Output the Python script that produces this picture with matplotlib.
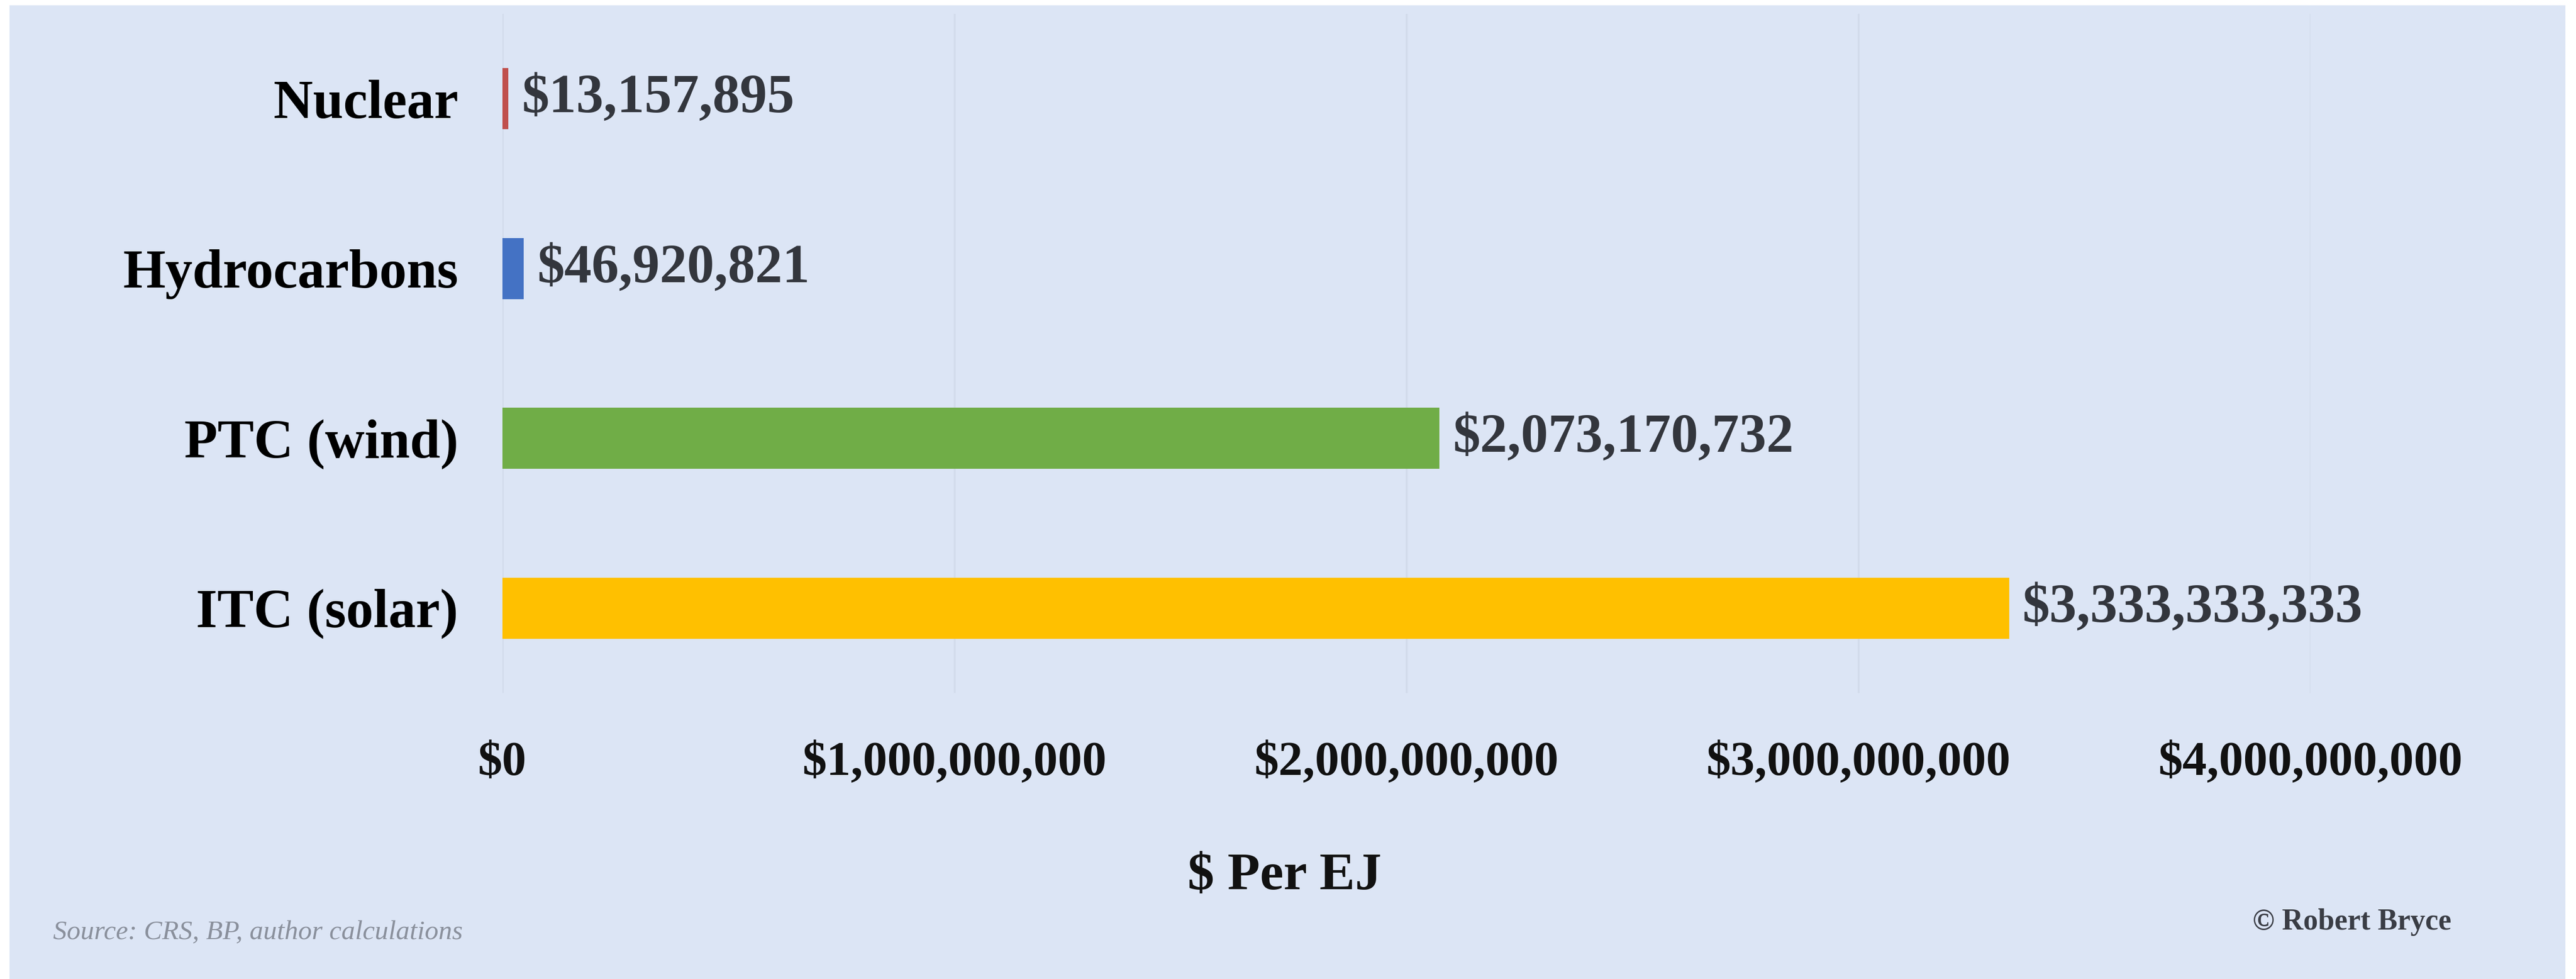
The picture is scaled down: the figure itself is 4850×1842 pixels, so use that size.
import matplotlib
matplotlib.use("Agg")
import matplotlib.pyplot as plt
from matplotlib.patches import Rectangle
from matplotlib.ticker import FuncFormatter

# Subsidy per exajoule by energy source
categories = ["Nuclear", "Hydrocarbons", "PTC (wind)", "ITC (solar)"]
values = [13157895, 46920821, 2073170732, 3333333333]
bar_colors = ["#C0504D", "#4472C4", "#70AD47", "#FFC000"]
tick_values = [0, 1e9, 2e9, 3e9, 4e9]

W, H, DPI = 4850, 1842, 100
BG = "#DCE5F5"
SERIF = ["Liberation Serif", "DejaVu Serif"]

fig = plt.figure(figsize=(W / DPI, H / DPI), dpi=DPI, facecolor="white")

# Light blue panel behind the chart
fig.patches.append(Rectangle((18 / W, 0), (4830 - 18) / W, (H - 10) / H,
                             transform=fig.transFigure, facecolor=BG,
                             edgecolor="none", zorder=-10))

left, right = 946 / W, 4350 / W
top, bottom = 1 - 26 / H, 1 - 1304 / H
ax = fig.add_axes([left, bottom, right - left, top - bottom], zorder=5)
ax.set_facecolor("none")

y = list(range(len(categories)))
ax.barh(y, values, height=0.36, color=bar_colors, zorder=3)
ax.set_ylim(len(categories) - 0.5, -0.5)
ax.set_xlim(0, 4e9)

ax.set_yticks(y)
ax.set_yticklabels(categories, fontfamily=SERIF, fontweight="bold",
                   fontsize=74, color="black")
ax.set_xticks(tick_values)
ax.xaxis.set_major_formatter(FuncFormatter(lambda v, p: f"${v:,.0f}"))
for lab in ax.get_xticklabels():
    lab.set_fontfamily(SERIF)
    lab.set_fontweight("bold")
    lab.set_fontsize(66)
    lab.set_color("#111111")
ax.tick_params(axis="y", length=0, pad=60)
ax.tick_params(axis="x", length=0, pad=66)

ax.grid(axis="x", color="#D2DBEB", linewidth=2.5, zorder=0)
ax.set_axisbelow(True)
for s in ax.spines.values():
    s.set_visible(False)

# Value labels at the end of each bar
for yi, v in zip(y, values):
    ax.annotate(f"${v:,.0f}", xy=(v, yi), xytext=(18, 0),
                textcoords="offset points", va="center", ha="left",
                fontfamily=SERIF, fontweight="bold", fontsize=74,
                color="#33363D", zorder=4)

fig.text(2419 / W, 1 - 1649 / H, "$ Per EJ", ha="center", va="center",
         fontfamily=SERIF, fontweight="bold", fontsize=72, color="#111111")
fig.text(100 / W, 1 - 1755 / H, "Source: CRS, BP, author calculations",
         ha="left", va="center", fontfamily=SERIF, fontstyle="italic",
         fontsize=37, color="#8A909C")
fig.text(4615 / W, 1 - 1735 / H, "\u00a9 Robert Bryce", ha="right",
         va="center", fontfamily=SERIF, fontweight="bold", fontsize=40,
         color="#3A3D45")

fig.savefig("out.png", dpi=DPI, facecolor="white")
